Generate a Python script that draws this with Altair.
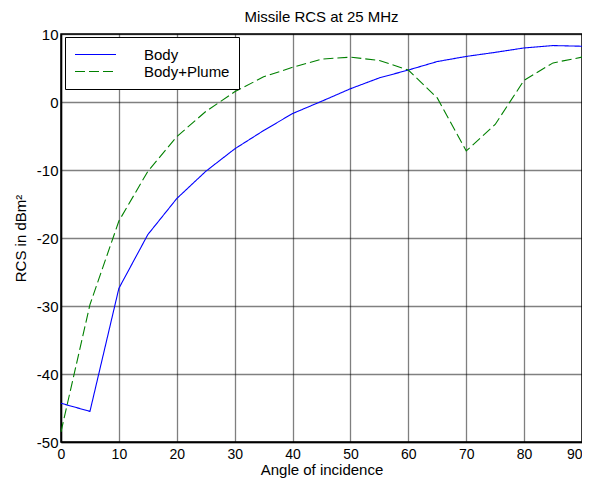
import altair as alt
import pandas as pd

angles = [0, 5, 10, 15, 20, 25, 30, 35, 40, 45, 50, 55, 60, 65, 70, 75, 80, 85, 90]
body = [-44.3, -45.5, -27.4, -19.5, -14.2, -10.2, -6.9, -4.2, -1.7, 0.1, 1.95, 3.55, 4.7, 5.95, 6.7, 7.3, 7.95, 8.3, 8.2]
body_plume = [-48.5, -29.8, -17.5, -10.2, -5.1, -1.4, 1.5, 3.7, 5.1, 6.3, 6.6, 6.1, 4.7, 0.6, -7.2, -3.3, 3.2, 5.75, 6.6]
series = ["Body", "Body+Plume"]

df = pd.concat([
    pd.DataFrame({"angle": angles, "rcs": body, "series": series[0]}),
    pd.DataFrame({"angle": angles, "rcs": body_plume, "series": series[1]}),
])

FONT = "Liberation Sans, Arial, sans-serif"
FS = 15

chart = alt.Chart(df).mark_line(strokeWidth=1.1).encode(
    x=alt.X("angle:Q",
            scale=alt.Scale(domain=[0, 90], nice=False, zero=False),
            axis=alt.Axis(values=list(range(0, 91, 10)), title="Angle of incidence",
                          labelExpr="'' + datum.value", labelPadding=5, titlePadding=1,
                          labelFontSize=14,
                          labelAlign=alt.condition("datum.value == 90", alt.value("right"), alt.value("center")))),
    y=alt.Y("rcs:Q",
            scale=alt.Scale(domain=[-50, 10], nice=False, zero=False),
            axis=alt.Axis(values=list(range(-50, 11, 10)), title="RCS in dBm²",
                          labelExpr="'' + datum.value", labelPadding=3, titlePadding=8)),
    color=alt.Color("series:N",
                    scale=alt.Scale(domain=series, range=["#0000ff", "#008000"]),
                    legend=alt.Legend(title=None, orient="none", legendX=4, legendY=3,
                                      symbolType="stroke", symbolSize=1680, symbolStrokeWidth=1.2,
                                      clipHeight=17,
                                      labelFontSize=FS, labelFont=FONT, labelColor="black",
                                      strokeColor="black", fillColor="white",
                                      padding=9, rowPadding=0, labelOffset=27)),
    strokeDash=alt.StrokeDash("series:N",
                              scale=alt.Scale(domain=series, range=[[1, 0], [10, 4]]),
                              legend=None),
).properties(
    width=521, height=408,
    title=alt.TitleParams("Missile RCS at 25 MHz", font=FONT, fontSize=FS, fontWeight="normal",
                          color="black", offset=2, frame="group"),
    autosize=alt.AutoSizeParams(type="none"),
    padding={"left": 53, "top": 26, "right": 0, "bottom": 38},
).configure_axis(
    grid=True, gridColor="black", gridDash=[1, 1], gridOpacity=1, gridWidth=1.3,
    domainColor="black", domainWidth=1.5, ticks=False,
    labelFont=FONT, labelFontSize=FS, labelColor="black",
    titleFont=FONT, titleFontSize=FS, titleColor="black", titleFontWeight="normal",
).configure_view(
    stroke="black", strokeWidth=1.5
)

chart.save("out.html", embed_options={"renderer": "svg", "actions": False})
